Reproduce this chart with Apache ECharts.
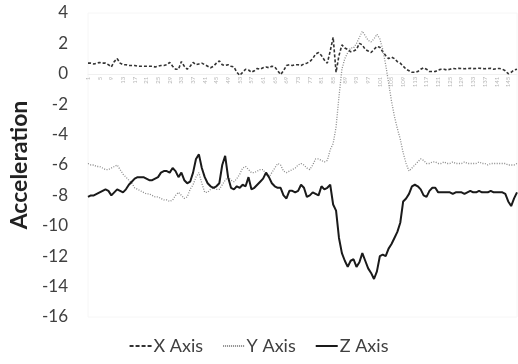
<!DOCTYPE html>
<html>
<head>
<meta charset="utf-8">
<script src="https://cdn.jsdelivr.net/npm/echarts@6/dist/echarts.min.js"></script>
<style>html,body{margin:0;padding:0;background:#fff;}#c{width:518px;height:364px;}</style>
</head>
<body>
<div id="c"></div>
<script>
// Sample numbers (category axis)
var samples = [];
for (var k = 1; k <= 148; k++) samples.push(String(k));

var xAxisVals = [
0.7,0.7,0.65,0.7,0.75,0.7,0.7,0.6,0.45,0.8,
1.0,0.7,0.6,0.6,0.55,0.55,0.55,0.5,0.5,0.5,
0.5,0.5,0.5,0.45,0.5,0.55,0.55,0.6,0.75,0.5,
0.3,0.3,0.8,0.5,0.3,0.5,0.75,0.6,0.65,0.7,
0.6,0.5,0.4,0.5,0.7,0.85,0.6,0.55,0.6,0.5,
0.45,0.1,-0.1,0.1,0.3,0.25,0.1,0.2,0.35,0.3,
0.4,0.45,0.4,0.5,0.45,0.2,-0.05,0.2,0.55,0.6,
0.55,0.6,0.6,0.55,0.65,0.7,0.8,1.0,1.3,1.4,
1.2,0.9,0.7,1.5,2.4,0.1,1.2,1.9,1.7,1.6,
1.45,1.5,1.6,2.0,1.9,1.6,1.5,1.4,1.6,1.8,
1.75,1.45,1.2,1.0,1.1,1.0,0.8,0.7,0.5,0.3,
0.2,0.1,0.1,0.15,0.3,0.4,0.3,0.15,0.15,0.15,
0.25,0.3,0.3,0.25,0.3,0.35,0.33,0.36,0.35,0.33,
0.35,0.36,0.34,0.35,0.37,0.35,0.33,0.35,0.36,0.3,
0.35,0.35,0.3,0.2,0.0,0.1,0.25,0.3
];

var yAxisVals = [
-5.9,-6.0,-6.0,-6.1,-6.1,-6.2,-6.3,-6.3,-6.2,-6.1,
-6.0,-6.3,-6.6,-6.8,-7.0,-7.2,-7.5,-7.6,-7.7,-7.8,
-7.9,-7.9,-8.0,-8.1,-8.1,-8.2,-8.3,-8.3,-8.4,-8.3,
-8.0,-7.8,-8.0,-8.2,-8.1,-7.6,-7.3,-6.8,-6.5,-7.2,
-7.8,-7.8,-7.6,-7.5,-7.6,-7.6,-7.3,-7.0,-6.8,-7.0,
-7.1,-6.9,-6.6,-6.2,-6.1,-6.3,-6.5,-6.5,-6.4,-6.3,
-6.3,-6.6,-6.8,-6.5,-6.2,-5.9,-6.0,-6.4,-6.5,-6.4,
-6.3,-6.2,-6.0,-5.9,-6.0,-6.2,-6.3,-6.0,-5.6,-5.6,
-5.7,-5.8,-5.7,-5.0,-4.6,-3.5,-1.5,0.3,1.0,1.4,
1.7,1.7,2.0,2.4,2.8,2.5,2.2,2.1,2.3,2.6,
2.3,1.6,0.6,-0.6,-1.8,-2.8,-3.6,-4.3,-5.2,-5.9,
-6.4,-6.2,-6.0,-5.8,-5.6,-5.7,-5.9,-5.9,-5.8,-5.8,
-5.9,-5.9,-5.8,-5.9,-5.9,-5.8,-5.9,-5.9,-5.9,-5.8,
-5.9,-5.9,-5.9,-5.9,-5.8,-5.9,-5.9,-6.0,-5.9,-5.9,
-5.9,-5.9,-5.9,-5.9,-6.0,-6.0,-6.0,-5.9
];

var zAxisVals = [
-8.1,-8.0,-8.0,-7.9,-7.8,-7.7,-7.6,-7.7,-8.0,-7.8,
-7.6,-7.7,-7.8,-7.6,-7.3,-7.1,-6.9,-6.8,-6.8,-6.8,
-6.9,-7.0,-7.0,-6.9,-6.8,-6.5,-6.4,-6.4,-6.5,-6.2,
-6.4,-6.8,-6.5,-7.0,-7.2,-7.1,-6.5,-5.6,-5.3,-6.2,
-6.8,-7.2,-7.4,-7.5,-7.4,-7.2,-6.0,-5.4,-6.8,-7.5,
-7.6,-7.4,-7.5,-7.3,-7.4,-6.8,-7.6,-7.5,-7.3,-7.1,
-6.9,-6.5,-6.8,-7.2,-7.4,-7.5,-7.5,-8.0,-8.2,-7.7,
-7.7,-7.8,-7.7,-7.3,-7.5,-8.1,-8.0,-7.8,-7.9,-8.0,
-7.4,-7.6,-7.5,-7.3,-8.6,-9.0,-10.8,-11.8,-12.3,-12.7,
-12.3,-12.2,-12.7,-12.4,-11.8,-12.3,-12.8,-13.1,-13.5,-13.0,
-12.0,-11.9,-12.0,-11.5,-11.2,-10.8,-10.4,-9.8,-8.4,-8.2,
-7.9,-7.4,-7.3,-7.4,-7.6,-8.0,-8.1,-7.7,-7.5,-7.5,
-7.8,-7.8,-7.8,-7.8,-7.8,-7.9,-7.8,-7.8,-7.8,-7.9,
-7.8,-7.7,-7.8,-7.8,-7.7,-7.8,-7.8,-7.8,-7.7,-7.8,
-7.8,-7.8,-7.8,-7.9,-8.4,-8.7,-8.2,-7.8
];

var yMin = -16, yMax = 4;
var gridTop = 13, gridBottom = 47, chartH = 364;
var plotH = chartH - gridTop - gridBottom;
// place the category axis at value 0 (as in the source chart)
var zeroOffset = -plotH * (0 - yMin) / (yMax - yMin);

var chart = echarts.init(document.getElementById('c'), null, {renderer: 'canvas'});
var font = 'Lato, "Liberation Sans", sans-serif';
chart.setOption({
  animation: false,
  backgroundColor: '#fff',
  textStyle: {fontFamily: font},
  grid: {left: 88, right: 1, top: gridTop, bottom: gridBottom, show: true, borderColor: '#f6f6f6', borderWidth: 1},
  legend: {
    bottom: 4,
    left: 'center',
    itemWidth: 22,
    itemHeight: 2,
    itemGap: 20,
    textStyle: {fontSize: 18, color: '#404040', fontFamily: font, padding: [0,0,0,-3]},
    data: [
      {name: 'X Axis', icon: 'path://M0,0h4v2h-4zM6,0h4v2h-4zM12,0h4v2h-4zM18,0h4v2h-4z'},
      {name: 'Y Axis', icon: 'path://M0,0h1v2h-1zM2,0h1v2h-1zM4,0h1v2h-1zM6,0h1v2h-1zM8,0h1v2h-1zM10,0h1v2h-1zM12,0h1v2h-1zM14,0h1v2h-1zM16,0h1v2h-1zM18,0h1v2h-1zM20,0h1v2h-1z'},
      {name: 'Z Axis', icon: 'path://M0,0h22v2h-22z'}
    ]
  },
  xAxis: {
    type: 'category',
    data: samples,
    boundaryGap: false,
    position: 'bottom',
    offset: zeroOffset,
    axisLine: {onZero: false, lineStyle: {color: '#f0f0f0'}},
    axisTick: {show: false},
    axisLabel: {interval: 3, rotate: 90, fontSize: 6, color: '#b8b8b8', margin: 3},
    splitLine: {show: false}
  },
  yAxis: {
    type: 'value',
    min: yMin, max: yMax, interval: 2,
    name: 'Acceleration',
    nameLocation: 'middle',
    nameGap: 51,
    nameTextStyle: {fontSize: 23, fontWeight: 'bold', color: '#222', fontFamily: font},
    axisLine: {show: false},
    axisTick: {show: false},
    splitLine: {show: false},
    axisLabel: {fontSize: 17, color: '#404040', margin: 20}
  },
  series: [
    {name: 'X Axis', type: 'line', data: xAxisVals, symbol: 'none',
     lineStyle: {color: '#333', width: 1.6, type: [3, 2]}, itemStyle: {color: '#333'}},
    {name: 'Y Axis', type: 'line', data: yAxisVals, symbol: 'none',
     lineStyle: {color: '#8a8a8a', width: 1.3, type: [1, 1.5]}, itemStyle: {color: '#8a8a8a'}},
    {name: 'Z Axis', type: 'line', data: zAxisVals, symbol: 'none',
     lineStyle: {color: '#1a1a1a', width: 2}, itemStyle: {color: '#1a1a1a'}}
  ]
});
</script>
</body>
</html>
